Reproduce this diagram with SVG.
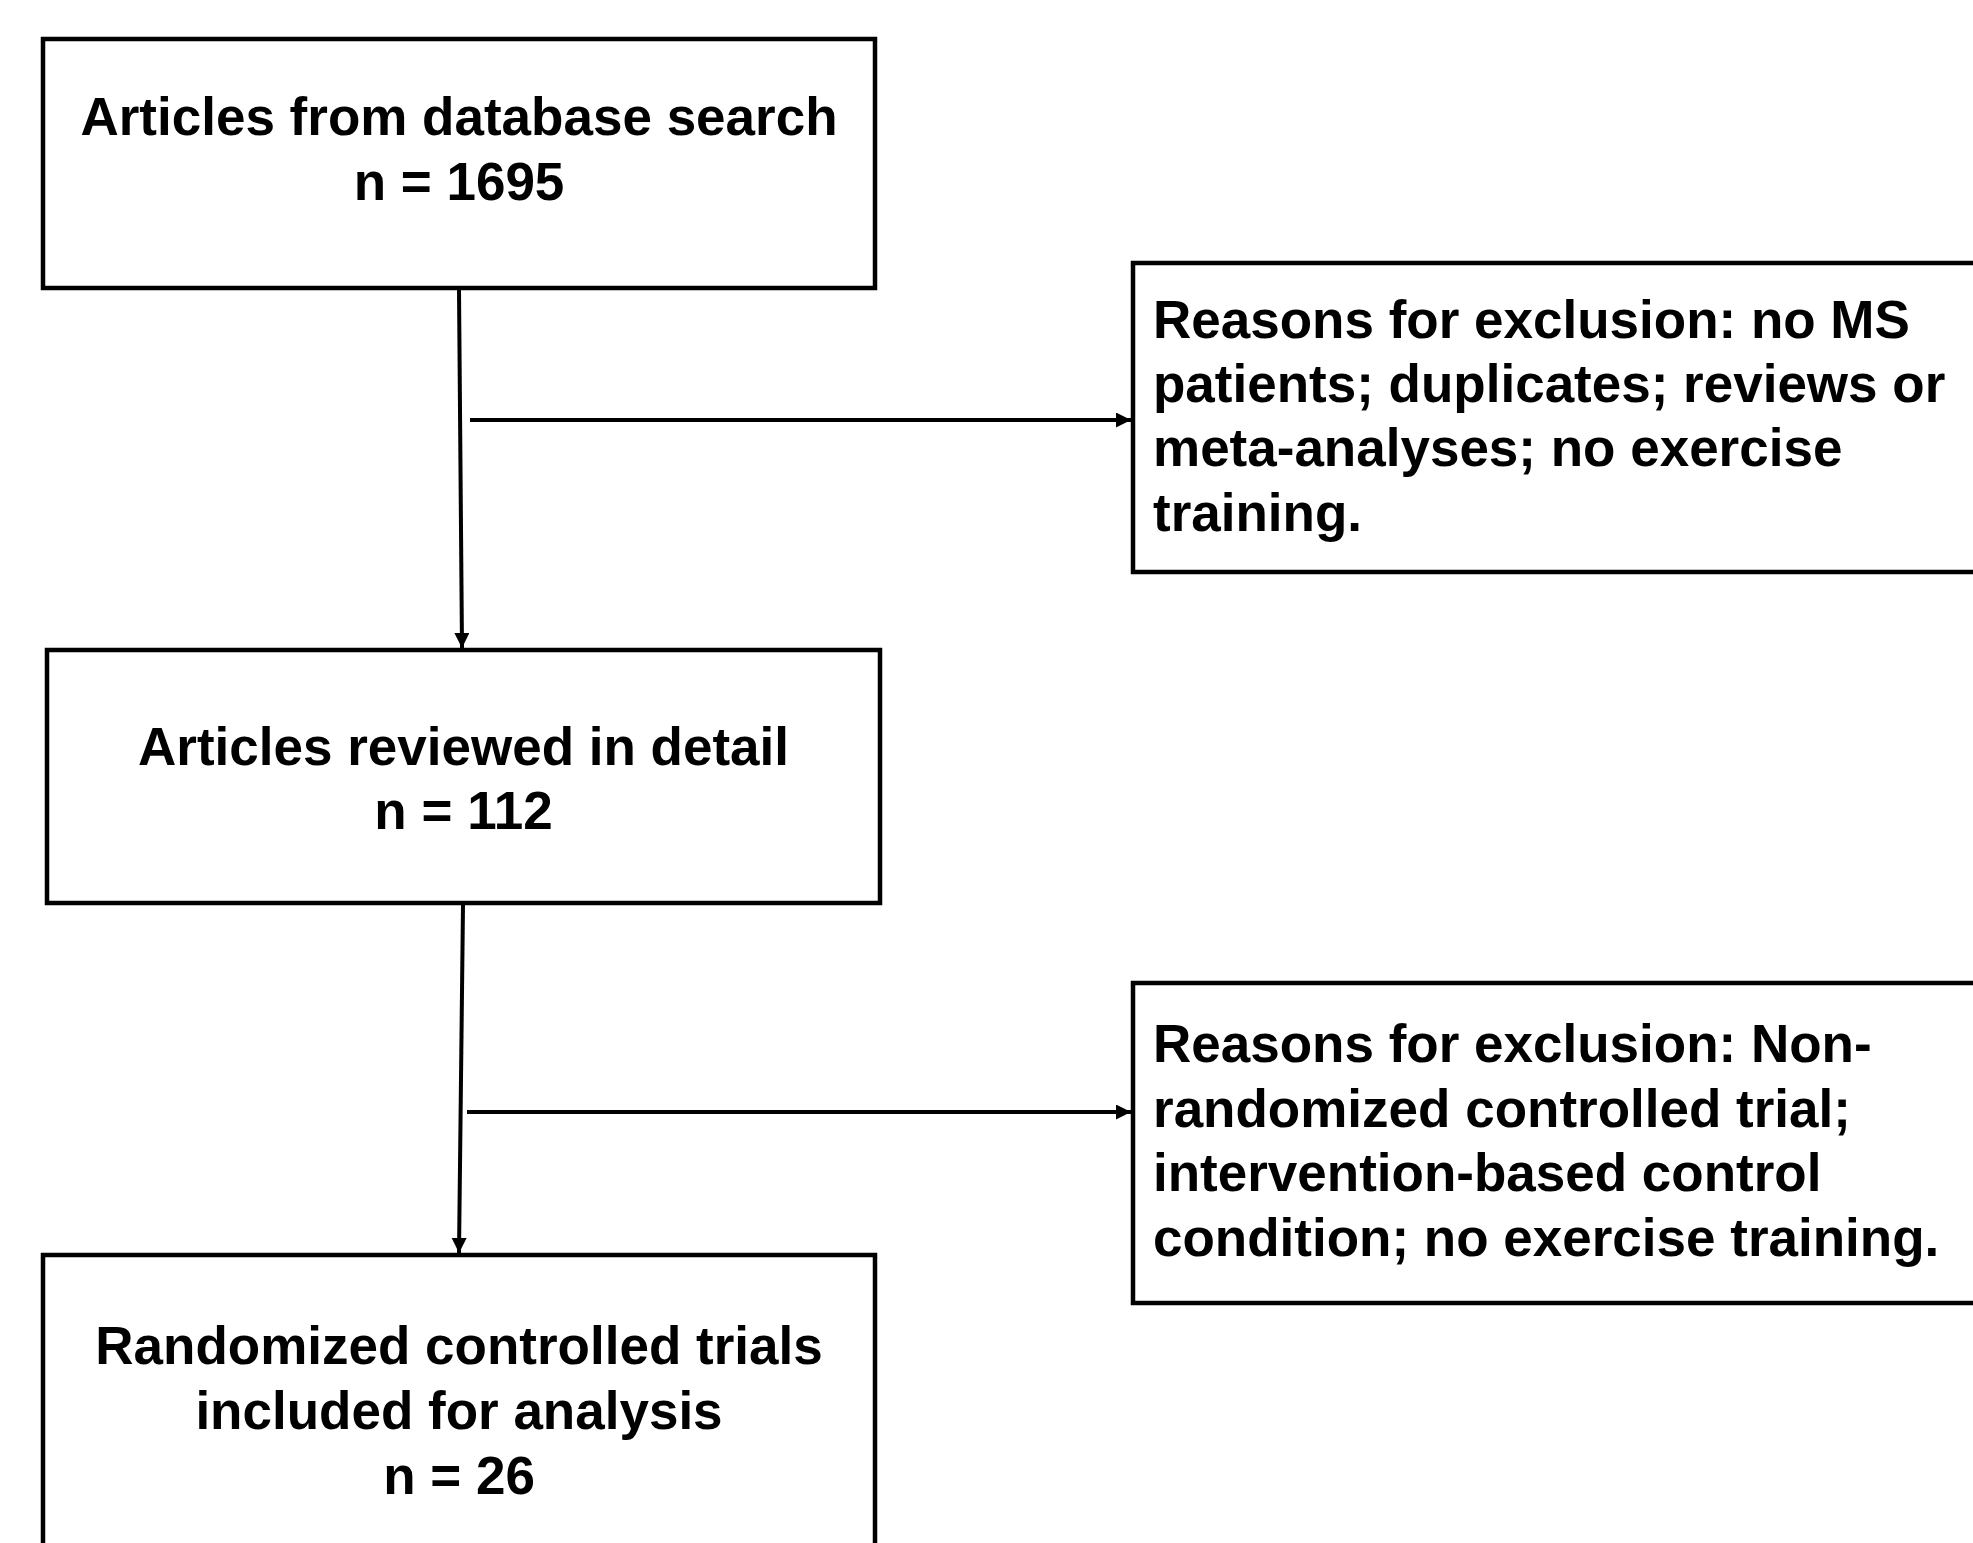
<svg xmlns="http://www.w3.org/2000/svg" width="1973" height="1543" viewBox="0 0 1973 1543">
<style>
.box{fill:#fff;stroke:#000;stroke-width:4.5}
.t{font-family:"Liberation Sans",Arial,sans-serif;font-weight:bold;font-size:53px;fill:#000}
.c{text-anchor:middle}
.edge{stroke:#000;stroke-width:4;fill:none;marker-end:url(#ah)}
</style>
<defs>
<marker id="ah" markerUnits="userSpaceOnUse" markerWidth="16" markerHeight="16" refX="15" refY="7.5" orient="auto">
<path d="M0,0 L15,7.5 L0,15 Z" fill="#000"/>
</marker>
</defs>
<rect width="1973" height="1543" fill="#fff"/>
<g id="connectors">
<line class="edge" x1="459" y1="290" x2="462" y2="648"/>
<line class="edge" x1="470" y1="420" x2="1131" y2="420"/>
<line class="edge" x1="463" y1="905" x2="459" y2="1253"/>
<line class="edge" x1="467" y1="1112" x2="1131" y2="1112"/>
</g>
<g id="node-search">
<rect class="box" x="43" y="39" width="832" height="249"/>
<text class="t c" x="459" y="135">Articles from database search</text>
<text class="t c" x="459" y="200">n = 1695</text>
</g>
<g id="node-exclusion1">
<rect class="box" x="1133" y="263" width="860" height="309"/>
<text class="t" x="1153" y="338">Reasons for exclusion: no MS</text>
<text class="t" x="1153" y="402">patients; duplicates; reviews or</text>
<text class="t" x="1153" y="466">meta-analyses; no exercise</text>
<text class="t" x="1153" y="531">training.</text>
</g>
<g id="node-reviewed">
<rect class="box" x="47" y="650" width="833" height="253"/>
<text class="t c" x="463.5" y="765">Articles reviewed in detail</text>
<text class="t c" x="463.5" y="829">n = 112</text>
</g>
<g id="node-exclusion2">
<rect class="box" x="1133" y="983" width="860" height="320"/>
<text class="t" x="1153" y="1062">Reasons for exclusion: Non-</text>
<text class="t" x="1153" y="1127">randomized controlled trial;</text>
<text class="t" x="1153" y="1191">intervention-based control</text>
<text class="t" x="1153" y="1256">condition; no exercise training.</text>
</g>
<g id="node-included">
<rect class="box" x="43" y="1255" width="832" height="320"/>
<text class="t c" x="459" y="1364">Randomized controlled trials</text>
<text class="t c" x="459" y="1429">included for analysis</text>
<text class="t c" x="459" y="1494">n = 26</text>
</g>
</svg>
